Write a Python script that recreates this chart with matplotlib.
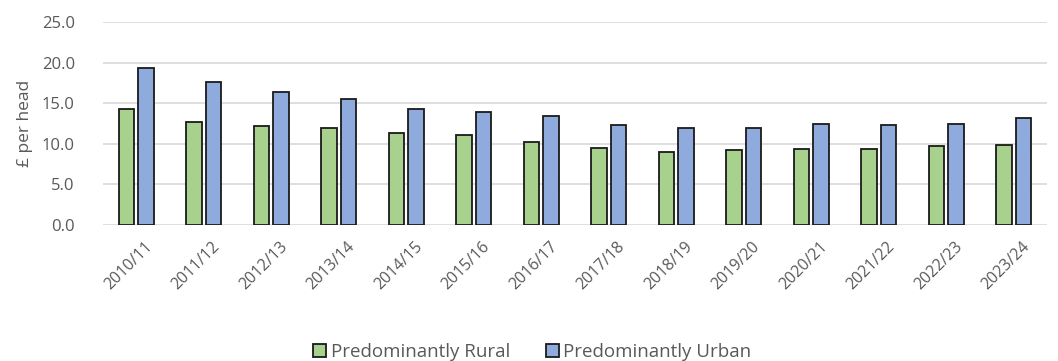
import matplotlib
matplotlib.use("Agg")
import matplotlib.pyplot as plt
import numpy as np

years = ["2010/11", "2011/12", "2012/13", "2013/14", "2014/15", "2015/16", "2016/17",
         "2017/18", "2018/19", "2019/20", "2020/21", "2021/22", "2022/23", "2023/24"]
rural = [14.3, 12.7, 12.2, 12.0, 11.3, 11.1, 10.2, 9.5, 9.0, 9.2, 9.4, 9.4, 9.7, 9.9]
urban = [19.4, 17.6, 16.4, 15.5, 14.3, 13.9, 13.4, 12.3, 12.0, 12.0, 12.5, 12.3, 12.5, 13.2]
yticks = [0, 5, 10, 15, 20, 25]

plt.rcParams['font.family'] = ['Open Sans', 'DejaVu Sans']
grey = '#595959'

fig = plt.figure(figsize=(10.58, 3.61), dpi=100)
ax = fig.add_axes([0.097, 0.377, 0.893, 0.561])

x = np.arange(len(years))
w = 0.23
gap = 0.06
ax.bar(x - (w + gap) / 2, rural, width=w, color='#a9d18e', edgecolor='#1a1a1a', linewidth=1.3,
       label='Predominantly Rural', zorder=3)
ax.bar(x + (w + gap) / 2, urban, width=w, color='#8faadc', edgecolor='#1a1a1a', linewidth=1.3,
       label='Predominantly Urban', zorder=3)

ax.set_xlim(-0.5, len(years) - 0.5)
ax.set_ylim(0, 25)
ax.set_yticks(yticks)
ax.set_yticklabels([f"{v:.1f}" for v in yticks], color=grey, fontsize=12)
ax.set_xticks(x + 0.12)
ax.set_xticklabels(years, rotation=45, ha='right', rotation_mode='anchor', color=grey, fontsize=11.5)
ax.tick_params(axis='both', length=0)
ax.tick_params(axis='y', pad=20)
ax.tick_params(axis='x', pad=10)
ax.grid(axis='y', color='#d9d9d9', linewidth=1.2, zorder=0)
for s in ax.spines.values():
    s.set_visible(False)
ax.set_ylabel('£ per head', color=grey, fontsize=12.5, labelpad=6)

leg = fig.legend(loc='center', bbox_to_anchor=(0.503, 0.025), ncol=2, frameon=False,
                 fontsize=13.5, handlelength=0.7, handleheight=0.7, handletextpad=0.25,
                 columnspacing=1.9)
for t in leg.get_texts():
    t.set_color(grey)

fig.savefig('out.png', dpi=100)
